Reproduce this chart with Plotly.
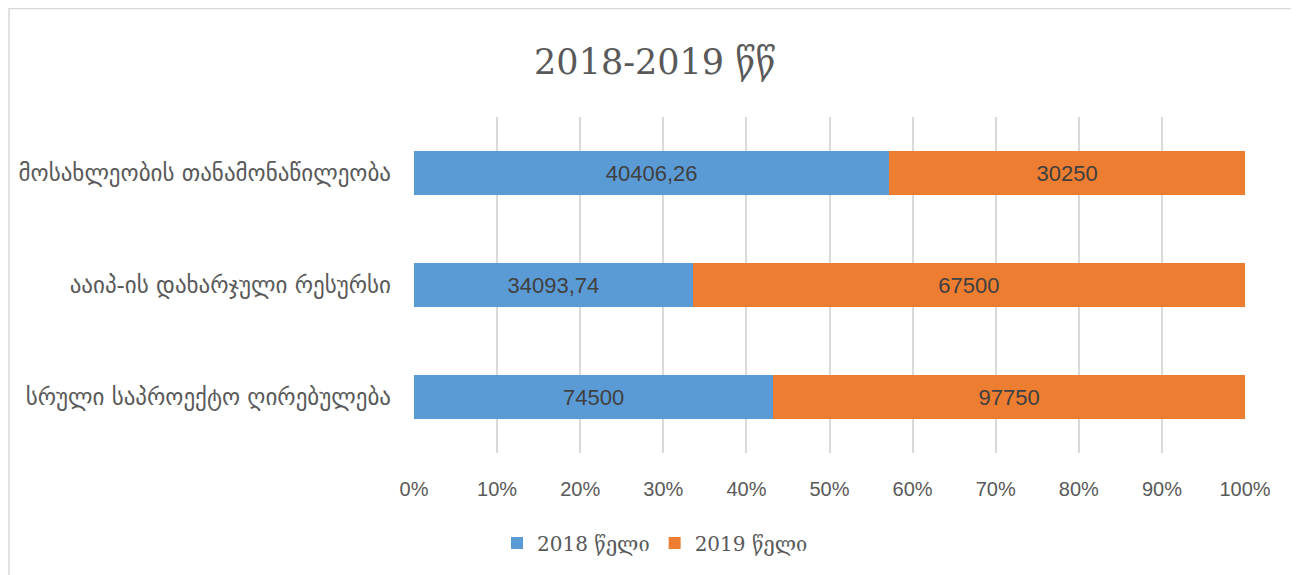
import plotly.graph_objects as go

# Kategorien (von unten nach oben, wie Plotly sie aufträgt)
kategorien = [
    "სრული საპროექტო ღირებულება",
    "ააიპ-ის დახარჯული რესურსი",
    "მოსახლეობის თანამონაწილეობა",
]
werte_2018 = [74500, 34093.74, 40406.26]
werte_2019 = [97750, 67500, 30250]
serien_namen = ["2018 წელი", "2019 წელი"]
x_ticks = [0, 10, 20, 30, 40, 50, 60, 70, 80, 90, 100]
titel = "2018-2019 წწ"


def als_label(v):
    # Excel-Stil mit Dezimalkomma
    if float(v).is_integer():
        return str(int(v))
    return f"{v:.2f}".replace(".", ",")


# Seite hat 8px Body-Rand -> Figur-Koordinaten = Bild-Koordinaten - 8
W, H = 1299, 575
L, R, T, B = 406, 62, 109, 130

fig = go.Figure()
for name, werte, farbe in [
    (serien_namen[0], werte_2018, "#5B9BD5"),
    (serien_namen[1], werte_2019, "#ED7D31"),
]:
    fig.add_trace(go.Bar(
        y=kategorien,
        x=werte,
        name=name,
        orientation="h",
        marker=dict(color=farbe, line=dict(width=0)),
        text=[als_label(v) for v in werte],
        texttemplate="%{text}",
        textposition="inside",
        insidetextanchor="middle",
        textangle=0,
        textfont=dict(family="Liberation Sans, Arial", size=22, color="#404040"),
        hoverinfo="skip",
    ))

# dünner grauer Rahmen um das ganze Diagramm (wie im Excel-Original)
pw, ph = W - L - R, H - T - B
fig.add_shape(
    type="rect", xref="paper", yref="paper",
    x0=(1 - L) / pw, x1=(W + 5 - L) / pw,
    y0=-(H + 5 - T - ph) / ph, y1=(T - 0.5) / ph + 1,
    line=dict(color="#d9d9d9", width=1.5), layer="below",
)

fig.update_layout(
    width=W, height=H,
    barmode="stack",
    barnorm="percent",
    bargap=0.6,
    paper_bgcolor="white",
    plot_bgcolor="white",
    margin=dict(l=L, r=R, t=T, b=B),
    title=dict(
        text=titel,
        x=(655 - 8) / W, xref="container", xanchor="center",
        y=1 - (62 - 8) / H, yref="container", yanchor="middle",
        font=dict(family="DejaVu Serif, Liberation Serif, serif", size=35, color="#595959"),
    ),
    xaxis=dict(
        range=[0, 100],
        tickvals=x_ticks,
        ticktext=[f"{t}%" for t in x_ticks],
        showgrid=True,
        gridcolor="#d9d9d9",
        gridwidth=1.5,
        zeroline=False,
        showline=False,
        ticks="",
        ticklabelstandoff=22,
        tickfont=dict(family="Liberation Sans Narrow, Arial Narrow, sans-serif", size=20, color="#595959"),
        fixedrange=True,
    ),
    yaxis=dict(
        showgrid=False,
        zeroline=False,
        showline=False,
        ticks="",
        ticklabelstandoff=22,
        tickfont=dict(family="DejaVu Sans, sans-serif", size=23, color="#595959"),
        fixedrange=True,
    ),
    legend=dict(
        orientation="h",
        x=(655 - 8) / W, xref="container", xanchor="center",
        y=1 - (543 - 8) / H, yref="container", yanchor="middle",
        font=dict(family="DejaVu Serif, Liberation Serif, serif", size=20, color="#595959"),
        itemwidth=30,
        traceorder="normal",
    ),
    showlegend=True,
)

fig.write_html("out.html")
